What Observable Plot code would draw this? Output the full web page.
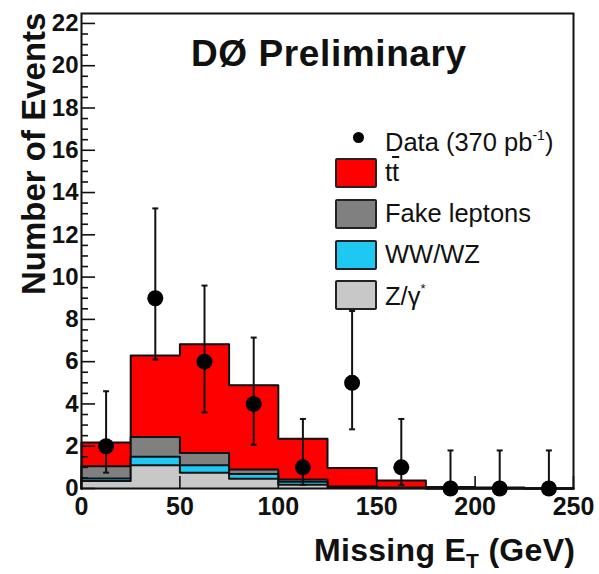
<!DOCTYPE html>
<html>
<head>
<meta charset="utf-8">
<script src="https://cdn.jsdelivr.net/npm/d3@7"></script>
<script src="https://cdn.jsdelivr.net/npm/@observablehq/plot@0.6"></script>
<style>
  html, body { margin: 0; padding: 0; background: #fff; }
  #wrap { position: relative; width: 599px; height: 574px; font-family: "Liberation Sans", Arial, Helvetica, sans-serif; color: #111; }
  #wrap svg { position: absolute; left: 0; top: 0; }
  .ov { position: absolute; white-space: nowrap; }
  .title { font-weight: bold; font-size: 37px; letter-spacing: 0.6px; }
  .leg { font-size: 25.5px; line-height: 1; }
  .box { position: absolute; width: 38px; height: 26px; border: 2px solid #222; border-radius: 2px; }
  .ylab { font-weight: bold; font-size: 33px; transform-origin: 0 0; transform: rotate(-90deg); }
  .xlab { font-weight: bold; font-size: 32px; letter-spacing: 0.3px; }
</style>
</head>
<body>
<div id="wrap"></div>
<script>
// ---- data ----
const binLow   = [0, 25, 50, 75, 100, 125, 150, 175, 200, 225];
const binWidth = 25;
const zgamma = [0.35, 1.10, 0.74, 0.46, 0.18, 0.03, 0.01, 0.00, 0.00, 0.00];
const wwwz   = [0.12, 0.40, 0.36, 0.23, 0.14, 0.02, 0.01, 0.00, 0.00, 0.00];
const fake   = [0.58, 0.94, 0.58, 0.21, 0.10, 0.05, 0.03, 0.02, 0.02, 0.00];
const ttbar  = [1.13, 3.85, 5.14, 3.99, 1.93, 0.87, 0.33, 0.05, 0.03, 0.00];
const dataCounts = [2, 9, 6, 4, 1, 5, 1, 0, 0, 0];
const errLow  = [0.75, 6.1, 3.6, 2.07, 0.17, 2.8, 0.17, 0, 0, 0];
const errHigh = [4.6, 13.25, 9.6, 7.14, 3.29, 8.4, 3.29, 1.8, 1.8, 1.8];
const xTicks = [0, 50, 100, 150, 200, 250];
const yTicks = [0, 2, 4, 6, 8, 10, 12, 14, 16, 18, 20, 22];
const yMinor = d3.range(0, 22.5, 0.5).filter(v => v % 2 !== 0);
const xMax = 250, yMax = 22.47;

const colors = { tt: "#ff0000", fake: "#808080", ww: "#1ec8f2", z: "#c8c8c8" };

// cumulative stacks (drawn from largest to smallest, as in the original)
const cumZ  = zgamma.map(v => v);
const cumW  = cumZ.map((v, i) => v + wwwz[i]);
const cumF  = cumW.map((v, i) => v + fake[i]);
const cumT  = cumF.map((v, i) => v + ttbar[i]);

function stepPoints(vals) {
  const pts = [{x: binLow[0], y: 0}];
  vals.forEach((v, i) => pts.push({x: binLow[i], y: v}));
  pts.push({x: binLow[binLow.length - 1] + binWidth, y: vals[vals.length - 1]});
  pts.push({x: binLow[binLow.length - 1] + binWidth, y: 0});
  return pts;
}
const layers = [
  {vals: cumT, fill: colors.tt},
  {vals: cumF, fill: colors.fake},
  {vals: cumW, fill: colors.ww},
  {vals: cumZ, fill: colors.z}
];

const points = dataCounts.map((c, i) => ({
  x: binLow[i] + binWidth / 2, y: c, lo: errLow[i], hi: errHigh[i]
}));
const caps = points.flatMap(p => [{x: p.x, y: p.hi}].concat(p.lo > 0 ? [{x: p.x, y: p.lo}] : []));
const capSymbol = { draw(ctx) { ctx.moveTo(-3, 0); ctx.lineTo(3, 0); } };

const marks = [];
layers.forEach(L => {
  const pts = stepPoints(L.vals);
  marks.push(Plot.areaY(pts, {x: "x", y: "y", curve: "step-after", fill: L.fill}));
  marks.push(Plot.lineY(pts, {x: "x", y: "y", curve: "step-after", stroke: "#111", strokeWidth: 2}));
});
marks.push(
  // inward ticks
  Plot.axisY(yTicks, {tickSize: 14, dx: 14, tickFormat: () => "", strokeWidth: 1.6, label: null}),
  Plot.axisY(yMinor, {tickSize: 7, dx: 7, tickFormat: () => "", strokeWidth: 1.6, label: null}),
  Plot.axisX(xTicks, {tickSize: 12, dy: -12, tickFormat: () => "", strokeWidth: 1.6, label: null}),
  // tick labels
  Plot.axisY(yTicks, {tickSize: 0, tickPadding: 3, fontSize: 24, fontWeight: "bold", label: null, fill: "#111"}),
  Plot.axisX(xTicks, {tickSize: 0, tickPadding: 9, fontSize: 25, fontWeight: "bold", label: null, fill: "#111"}),
  Plot.frame({stroke: "#111", strokeWidth: 2}),
  Plot.ruleX(points, {x: "x", y1: "lo", y2: "hi", stroke: "#111", strokeWidth: 2}),
  Plot.dot(caps, {x: "x", y: "y", symbol: capSymbol, stroke: "#111", strokeWidth: 2, r: 3}),
  Plot.dot(points, {x: "x", y: "y", r: 8, fill: "#000", stroke: "none"})
);

const chart = Plot.plot({
  width: 599,
  height: 574,
  marginLeft: 81,
  marginRight: 26,
  marginTop: 13,
  marginBottom: 86,
  x: {domain: [0, xMax]},
  y: {domain: [0, yMax]},
  style: {fontFamily: "'Liberation Sans', Arial, Helvetica, sans-serif", background: "white", overflow: "visible"},
  marks
});

const wrap = document.getElementById("wrap");
wrap.appendChild(chart);

function ov(html, cls, css) {
  const d = document.createElement("div");
  d.className = "ov " + (cls || "");
  d.innerHTML = html;
  Object.assign(d.style, css || {});
  wrap.appendChild(d);
  return d;
}
function box(color, left, top) {
  const d = document.createElement("div");
  d.className = "box";
  Object.assign(d.style, {left: left + "px", top: top + "px", background: color});
  wrap.appendChild(d);
}

// title
ov("DØ Preliminary", "title", {left: "191px", top: "33px"});

// legend
const legendItems = [
  {label: 't<span style="text-decoration: overline;">t</span>', color: colors.tt, top: 158},
  {label: "Fake leptons", color: colors.fake, top: 199},
  {label: "WW/WZ", color: colors.ww, top: 240},
  {label: 'Z/γ<sup style="font-size:13px; vertical-align: 12px;">*</sup>', color: colors.z, top: 280}
];
const dot = document.createElement("div");
Object.assign(dot.style, {position: "absolute", left: "353px", top: "132px", width: "11px", height: "11px", borderRadius: "50%", background: "#000"});
wrap.appendChild(dot);
ov('Data (370 pb<sup style="font-size:14px; vertical-align: 11px;">-1</sup>)', "leg", {left: "385px", top: "128px"});
legendItems.forEach(it => {
  box(it.color, 335, it.top);
  ov(it.label, "leg", {left: "385px", top: (it.top + 2) + "px"});
});

// axis titles
ov("Number of Events", "ylab", {left: "15px", top: "295px"});
ov('Missing E<sub style="font-size:21px; vertical-align: -7px;">T</sub> (GeV)', "xlab", {left: "314px", top: "532px"});
</script>
</body>
</html>
